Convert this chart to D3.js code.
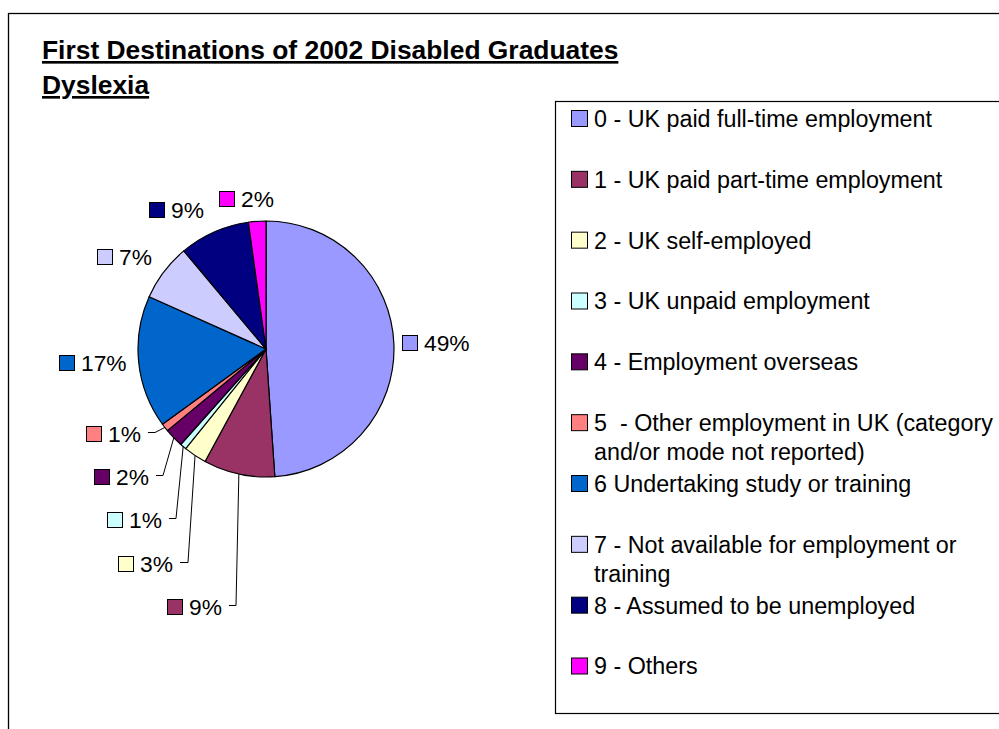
<!DOCTYPE html>
<html>
<head>
<meta charset="utf-8">
<script src="https://cdn.jsdelivr.net/npm/d3@7"></script>
<style>
  body { margin: 0; background: #fff; }
  svg text { font-family: "Liberation Sans", Arial, Helvetica, sans-serif; fill: #000; }
</style>
</head>
<body>
<svg id="chart" width="999" height="729"></svg>
<script>
// Destination categories (legend text, wrapped lines)
const categories = [
  ["0 - UK paid full-time employment"],
  ["1 - UK paid part-time employment"],
  ["2 - UK self-employed"],
  ["3 - UK unpaid employment"],
  ["4 - Employment overseas"],
  ["5  - Other employment in UK (category", "and/or mode not reported)"],
  ["6 Undertaking study or training"],
  ["7 - Not available for employment or", "training"],
  ["8 - Assumed to be unemployed"],
  ["9 - Others"]
];

// Share of graduates in each destination (%)
const shares = [48.9, 9.0, 2.9, 0.8, 2.4, 1.0, 16.7, 7.2, 8.9, 2.2];

const colors = ["#9999FF", "#993366", "#FFFFCC", "#CCFFFF", "#660066",
                "#FF8080", "#0066CC", "#CCCCFF", "#000080", "#FF00FF"];

const titleLines = ["First Destinations of 2002 Disabled Graduates", "Dyslexia"];

// Data-label placement: left edge of the key square and vertical centre
const labelSpots = [[402, 343], [167, 607], [118, 564], [107, 520], [94, 477],
                    [86, 434], [59, 363], [97, 257], [149, 210], [219, 199]];
// Leader-line elbow x for labels that were pulled away from their slice
const leaderElbowX = [null, 236, 188, 176, 163, 155, null, null, null, null];

const svg = d3.select("#chart");
const W = 999, H = 729;

// Chart area frame (runs off the right and bottom edges)
svg.append("rect")
  .attr("x", 8.5).attr("y", 13.5)
  .attr("width", W + 20).attr("height", H + 20)
  .attr("fill", "#fff").attr("stroke", "#000").attr("stroke-width", 1.3);

// Title
svg.append("g").selectAll("text")
  .data(titleLines)
  .join("text")
  .attr("x", 42)
  .attr("y", (d, i) => 59 + i * 35)
  .attr("font-size", 26.4)
  .attr("font-weight", "bold")
  .attr("text-decoration", "underline")
  .text(d => d);

// Pie
const cx = 266, cy = 349, R = 128;
const pie = d3.pie().sort(null).value(d => d).startAngle(0).endAngle(2 * Math.PI);
const arcs = pie(shares);
const arcGen = d3.arc().innerRadius(0).outerRadius(R);

const g = svg.append("g").attr("transform", `translate(${cx},${cy})`);
g.selectAll("path")
  .data(arcs)
  .join("path")
  .attr("d", arcGen)
  .attr("fill", (d, i) => colors[i])
  .attr("stroke", "#000")
  .attr("stroke-width", 1.2)
  .attr("stroke-linejoin", "round");

const total = d3.sum(shares);
const pct = v => Math.round(v / total * 100) + "%";

// Data labels: key square + percentage
const lab = svg.append("g");
arcs.forEach((a, i) => {
  const [lx, ly] = labelSpots[i];
  lab.append("rect")
    .attr("x", lx + 0.5).attr("y", ly - 7.5)
    .attr("width", 15).attr("height", 15)
    .attr("fill", colors[i]).attr("stroke", "#000").attr("stroke-width", 1);
  const t = lab.append("text")
    .attr("x", lx + 22)
    .attr("y", ly)
    .attr("dy", "0.36em")
    .attr("font-size", 22.8)
    .text(pct(a.value));
  if (leaderElbowX[i] != null) {
    const textEnd = lx + 22 + t.node().getComputedTextLength();
    const mid = (a.startAngle + a.endAngle) / 2;
    const px = cx + R * Math.sin(mid), py = cy - R * Math.cos(mid);
    const ey = ly - 1.5;
    lab.append("path")
      .attr("d", `M${textEnd + 7},${ey}L${leaderElbowX[i]},${ey}L${px},${py}`)
      .attr("fill", "none").attr("stroke", "#000").attr("stroke-width", 1);
  }
});

// Legend
const legX = 555.5, legY = 101.5;
svg.append("rect")
  .attr("x", legX).attr("y", legY)
  .attr("width", W).attr("height", 612)
  .attr("fill", "#fff").attr("stroke", "#000").attr("stroke-width", 1.2);

const rowY = d3.scaleLinear().domain([0, categories.length - 1]).range([118.5, 666]);
const leg = svg.append("g");
categories.forEach((lines, i) => {
  const y = rowY(i);
  leg.append("rect")
    .attr("x", 571.5).attr("y", y - 8)
    .attr("width", 16).attr("height", 16)
    .attr("fill", colors[i]).attr("stroke", "#000").attr("stroke-width", 1);
  lines.forEach((line, j) => {
    leg.append("text")
      .attr("x", 594)
      .attr("y", y + j * 29)
      .attr("dy", "0.36em")
      .attr("font-size", 23.3)
      .style("white-space", "pre")
      .text(line);
  });
});
</script>
</body>
</html>
